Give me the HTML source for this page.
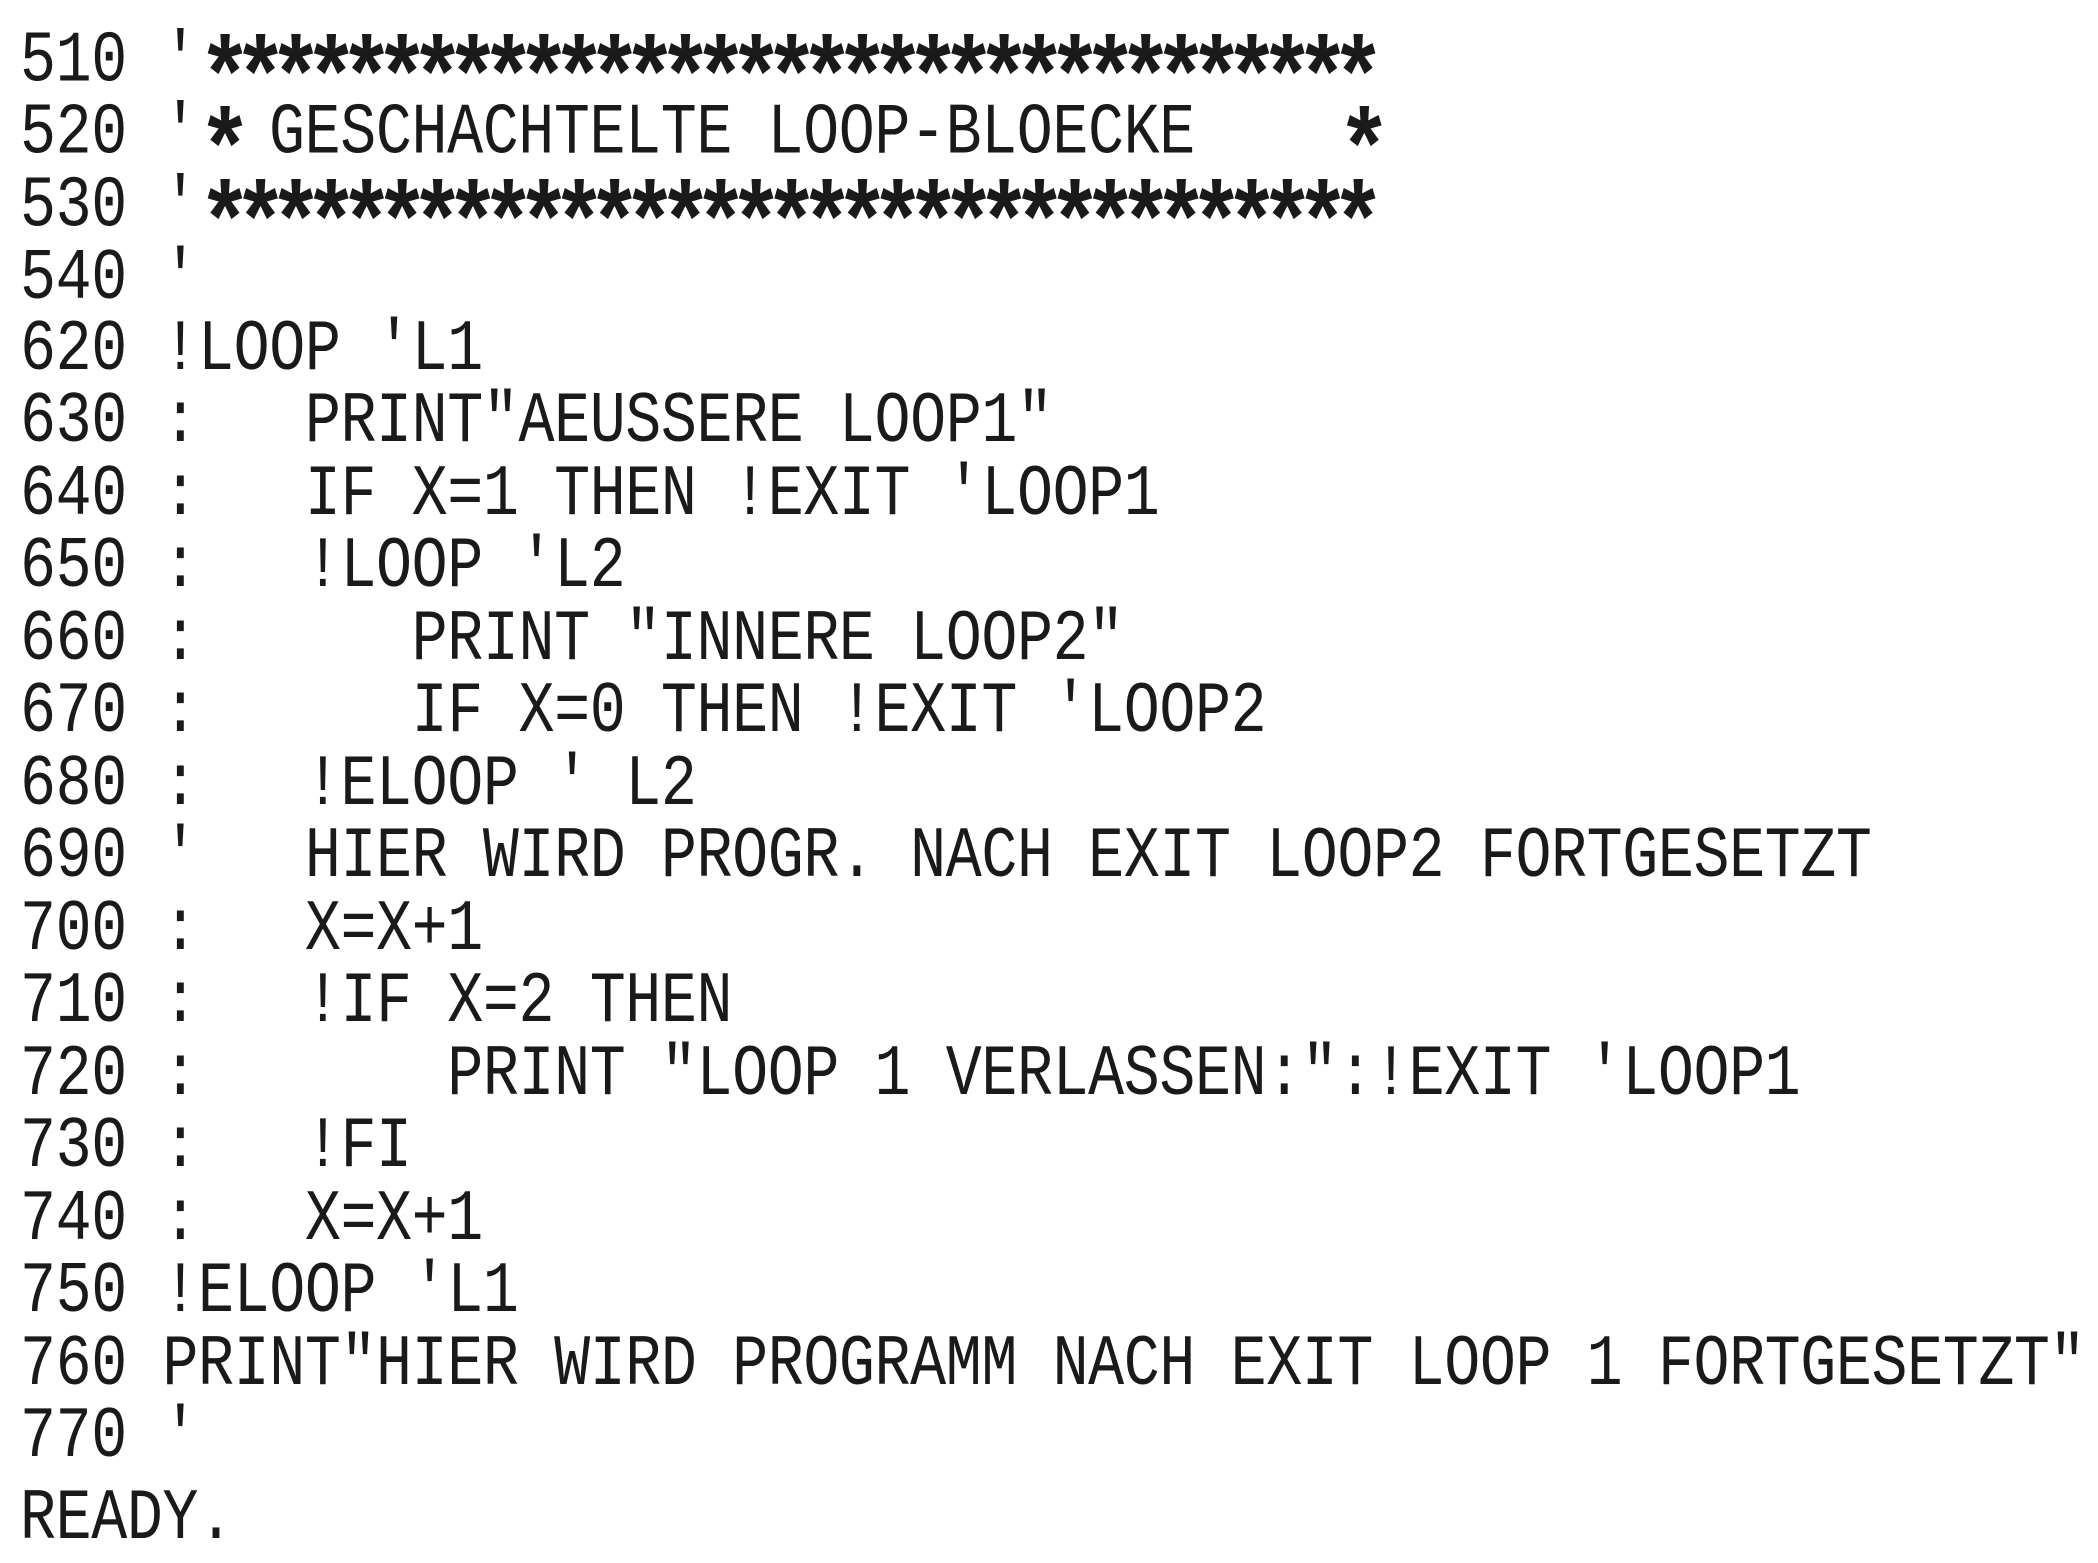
<!DOCTYPE html>
<html><head><meta charset="utf-8"><style>
html,body{margin:0;padding:0;background:#fff;}
body{width:2098px;height:1563px;position:relative;overflow:hidden;}
.l{position:absolute;left:20px;height:72px;line-height:72px;font-family:"Liberation Mono",monospace;font-size:60px;letter-spacing:-0.4px;color:#1a1a1a;white-space:pre;transform:scaleY(1.2);transform-origin:0 36px;}
.s{font-size:90px;letter-spacing:-18.6px;font-weight:bold;position:relative;top:26px;line-height:72px;}
</style></head><body>
<div class="l" style="top:17px">510 '<span class="s">*********************************</span></div>
<div class="l" style="top:89px">520 '<span class="s">*</span> GESCHACHTELTE LOOP-BLOECKE    <span class="s">*</span></div>
<div class="l" style="top:162px">530 '<span class="s">*********************************</span></div>
<div class="l" style="top:244px">540 '</div>
<div class="l" style="top:315px">620 !LOOP 'L1</div>
<div class="l" style="top:387px">630 :   PRINT"AEUSSERE LOOP1"</div>
<div class="l" style="top:460px">640 :   IF X=1 THEN !EXIT 'LOOP1</div>
<div class="l" style="top:532px">650 :   !LOOP 'L2</div>
<div class="l" style="top:605px">660 :      PRINT "INNERE LOOP2"</div>
<div class="l" style="top:677px">670 :      IF X=0 THEN !EXIT 'LOOP2</div>
<div class="l" style="top:750px">680 :   !ELOOP ' L2</div>
<div class="l" style="top:822px">690 '   HIER WIRD PROGR. NACH EXIT LOOP2 FORTGESETZT</div>
<div class="l" style="top:895px">700 :   X=X+1</div>
<div class="l" style="top:967px">710 :   !IF X=2 THEN</div>
<div class="l" style="top:1040px">720 :       PRINT "LOOP 1 VERLASSEN:":!EXIT 'LOOP1</div>
<div class="l" style="top:1112px">730 :   !FI</div>
<div class="l" style="top:1185px">740 :   X=X+1</div>
<div class="l" style="top:1257px">750 !ELOOP 'L1</div>
<div class="l" style="top:1330px">760 PRINT"HIER WIRD PROGRAMM NACH EXIT LOOP 1 FORTGESETZT"</div>
<div class="l" style="top:1402px">770 '</div>
<div class="l" style="top:1484px">READY.</div>
</body></html>
